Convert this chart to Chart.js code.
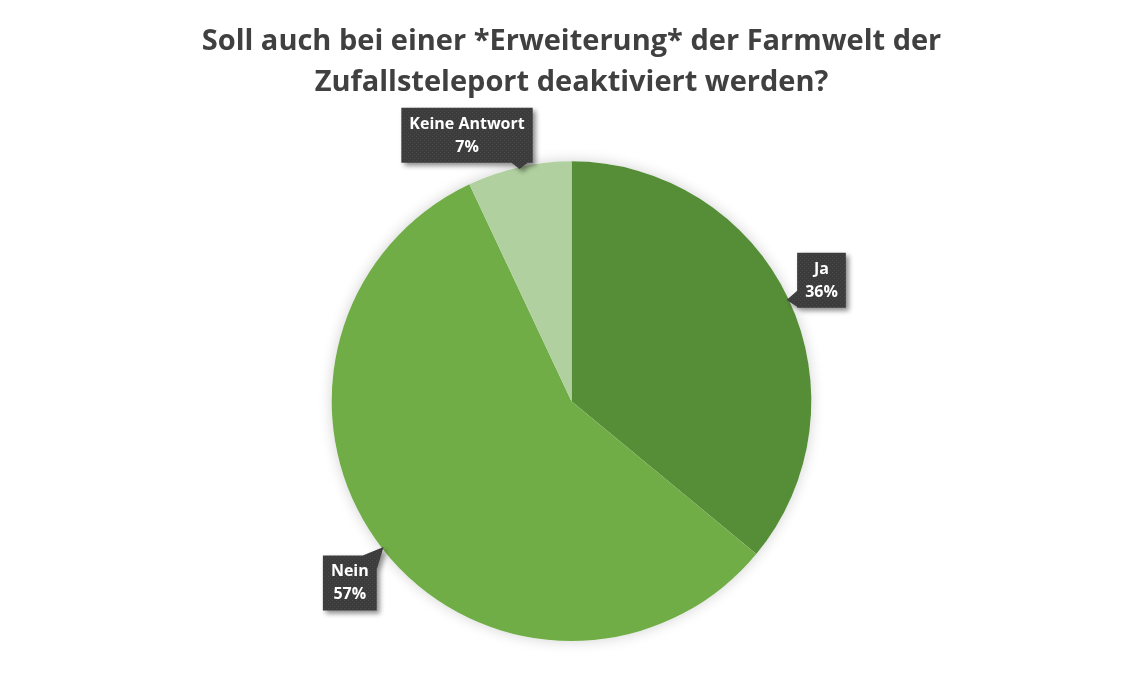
<!DOCTYPE html>
<html>
<head>
<meta charset="utf-8">
<script src="https://cdn.jsdelivr.net/npm/chart.js@4/dist/chart.umd.min.js"></script>
<style>
  html, body { margin: 0; padding: 0; background: #fff; }
  #wrap { width: 1143px; height: 700px; }
</style>
</head>
<body>
<div id="wrap"><canvas id="pie"></canvas></div>
<script>
'use strict';

// data
const categories = ['Ja', 'Nein', 'Keine Antwort'];
const shares = [36, 57, 7];
const sliceColors = ['#568d37', '#70ad47', '#b1d0a0'];
const titleLines = ['Soll auch bei einer *Erweiterung* der Farmwelt der', 'Zufallsteleport deaktiviert werden?'];

// dotted dark fill for the callouts
function makeDots(ctx) {
  const c = document.createElement('canvas');
  c.width = 4; c.height = 4;
  const g = c.getContext('2d');
  g.fillStyle = '#3c3c3c';
  g.fillRect(0, 0, 4, 4);
  g.fillStyle = '#4a4a4a';
  g.fillRect(0, 0, 1, 1);
  g.fillRect(2, 2, 1, 1);
  return ctx.createPattern(c, 'repeat');
}

// ─────────────────────────────────────────────
// callout labels
// ─────────────────────────────────────────────
const calloutPlugin = {
  id: 'callouts',
  afterDatasetsDraw(chart) {
    const ctx = chart.ctx;
    const meta = chart.getDatasetMeta(0);
    const total = shares.reduce((a, b) => a + b, 0);
    const fill = makeDots(ctx);
    const nudge = [[-5, -1], [1, 9], [-43, 9]];
    const font = 'bold 16px "Open Sans"';

    meta.data.forEach((arc, i) => {
      const { x, y, startAngle, endAngle, outerRadius } = arc.getProps(['x', 'y', 'startAngle', 'endAngle', 'outerRadius'], true);
      const mid = (startAngle + endAngle) / 2;
      const dx = Math.cos(mid), dy = Math.sin(mid);
      const tip = { x: x + dx * (outerRadius - 2), y: y + dy * (outerRadius - 2) };

      const pct = Math.round(shares[i] / total * 100) + '%';
      ctx.save();
      ctx.font = font;
      const w = Math.max(ctx.measureText(categories[i]).width, ctx.measureText(pct).width) + 16;
      const h = 55;
      const cx = x + dx * (outerRadius + 42) + nudge[i][0];
      const cy = y + dy * (outerRadius + 42) + nudge[i][1];
      const L = cx - w / 2, R = cx + w / 2, T = cy - h / 2, B = cy + h / 2;

      // pointer base
      const ox = tip.x < L ? L - tip.x : (tip.x > R ? tip.x - R : 0);
      const oy = tip.y < T ? T - tip.y : (tip.y > B ? tip.y - B : 0);
      let base;
      if (ox > 0 && oy > 0) {
        const kx = tip.x < L ? L : R, ky = tip.y < T ? T : B;
        base = [[kx - Math.sign(kx - cx) * 14, ky], [kx, ky - Math.sign(ky - cy) * 14]];
      } else if (ox > oy) {
        const ex = tip.x < L ? L : R;
        const my = Math.min(Math.max(tip.y, T + 9), B - 9);
        base = [[ex, my - 8], [ex, my + 8]];
      } else {
        const ey = tip.y < T ? T : B;
        const mx = Math.min(Math.max(tip.x, L + 9), R - 9);
        base = [[mx - 8, ey], [mx + 8, ey]];
      }

      ctx.shadowColor = 'rgba(0,0,0,0.45)';
      ctx.shadowBlur = 5;
      ctx.shadowOffsetX = 3;
      ctx.shadowOffsetY = 3;
      ctx.fillStyle = fill;
      ctx.beginPath();
      ctx.rect(L, T, w, h);
      ctx.moveTo(base[0][0], base[0][1]);
      ctx.lineTo(tip.x, tip.y);
      ctx.lineTo(base[1][0], base[1][1]);
      ctx.closePath();
      ctx.fill();
      ctx.restore();

      ctx.save();
      ctx.font = font;
      ctx.fillStyle = '#ffffff';
      ctx.textAlign = 'center';
      ctx.textBaseline = 'middle';
      ctx.fillText(categories[i], cx, cy - 11);
      ctx.fillText(pct, cx, cy + 12);
      ctx.restore();
    });
  }
};

// soft shade round the pie
const shadePlugin = {
  id: 'shade',
  beforeDatasetsDraw(chart) {
    const arc = chart.getDatasetMeta(0).data[0];
    if (!arc) return;
    const { x, y, outerRadius } = arc.getProps(['x', 'y', 'outerRadius'], true);
    const ctx = chart.ctx;
    ctx.save();
    ctx.shadowColor = 'rgba(0,0,0,0.18)';
    ctx.shadowBlur = 14;
    ctx.fillStyle = '#ffffff';
    ctx.beginPath();
    ctx.arc(x, y, outerRadius, 0, Math.PI * 2);
    ctx.fill();
    ctx.restore();
  }
};

new Chart(document.getElementById('pie'), {
  type: 'pie',
  data: {
    labels: categories,
    datasets: [{
      data: shares,
      backgroundColor: sliceColors,
      borderWidth: 0,
      hoverOffset: 0,
    }],
  },
  options: {
    responsive: true,
    maintainAspectRatio: false,
    animation: false,
    layout: { padding: { top: 0, bottom: 59, left: 0, right: 0 } },
    plugins: {
      legend: { display: false },
      tooltip: { enabled: false },
      title: {
        display: true,
        text: titleLines,
        color: '#404040',
        font: { family: '"Open Sans"', size: 29, weight: 'bold', lineHeight: 1.42 },
        padding: { top: 21, bottom: 58 },
      },
    },
  },
  plugins: [shadePlugin, calloutPlugin],
});
</script>
</body>
</html>
